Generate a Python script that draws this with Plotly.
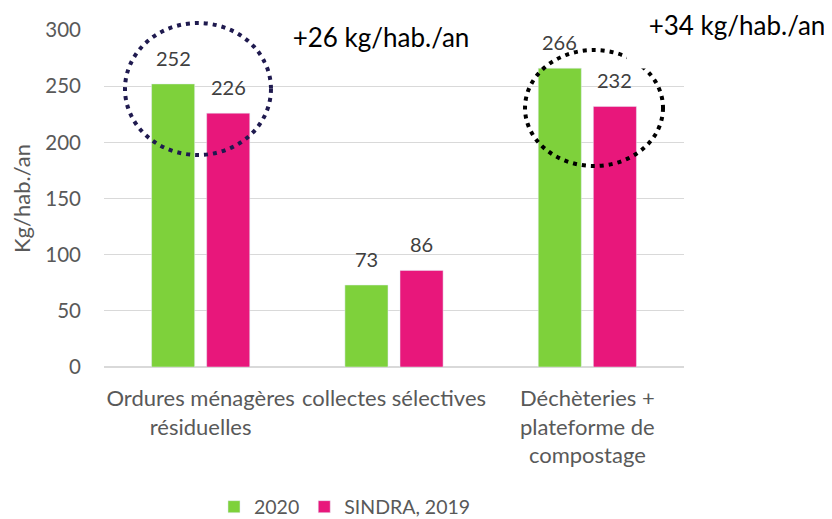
import plotly.graph_objects as go

categories = ["Ordures ménagères<br>résiduelles", "collectes sélectives", "Déchèteries +<br>plateforme de<br>compostage"]
series_names = ["2020", "SINDRA, 2019"]
values_2020 = [252, 73, 266]
values_sindra = [226, 86, 232]
y_ticks = [0, 50, 100, 150, 200, 250, 300]
diff_labels = ["+26 kg/hab./an", "+34 kg/hab./an"]

GREEN = "#7ED13B"
PINK = "#E8177B"
FONT = "Lato"

fig = go.Figure()
fig.add_trace(go.Bar(x=list(range(3)), y=values_2020, name=series_names[0], marker_color=GREEN))
fig.add_trace(go.Bar(x=list(range(3)), y=values_sindra, name=series_names[1], marker_color=PINK))

annotations = []
for vals, shift in ((values_2020, -27.5), (values_sindra, 27.5)):
    for i, v in enumerate(vals):
        annotations.append(dict(x=i, y=v, xref="x", yref="y", text=str(v), showarrow=False,
                                xanchor="center", yanchor="middle",
                                xshift=shift, yshift=26, font=dict(family=FONT, size=20, color="#404040")))

annotations.append(dict(x=0.4776, y=0.979, xref="paper", yref="paper", text=diff_labels[0], showarrow=False,
                        xanchor="center", yanchor="middle",
                        bgcolor="white", width=226, height=50, font=dict(family=FONT, size=26, color="black")))
annotations.append(dict(x=1.0914, y=1.0148, xref="paper", yref="paper", text=diff_labels[1], showarrow=False,
                        xanchor="center", yanchor="middle",
                        bgcolor="white", width=218, height=84, font=dict(family=FONT, size=26, color="black")))

shapes = [
    dict(type="circle", xref="paper", yref="paper", x0=0.0362, x1=0.2879, y0=0.6291, y1=1.0208,
         line=dict(color="#1F1A4F", width=4, dash="4px,5px"), layer="above"),
    dict(type="circle", xref="paper", yref="paper", x0=0.7259, x1=0.9638, y0=0.5964, y1=0.9407,
         line=dict(color="black", width=4, dash="4px,5px"), layer="above"),
]

fig.update_layout(
    width=824, height=511,
    margin=dict(l=96, r=148, t=22, b=152, autoexpand=False),
    paper_bgcolor="white", plot_bgcolor="white",
    barmode="group", bargap=0.43, bargroupgap=0.218,
    font=dict(family=FONT, size=20, color="#595959"),
    showlegend=True,
    legend=dict(orientation="h", x=0.4155, y=-0.4154, xanchor="center", yanchor="middle",
                font=dict(family=FONT, size=19.5, color="#595959"), itemwidth=30),
    annotations=annotations,
    shapes=shapes,
)
fig.update_xaxes(tickmode="array", tickvals=list(range(3)), ticktext=categories,
                 range=[-0.5, 2.5], showgrid=False, showline=False, ticks="",
                 ticklabelstandoff=16,
                 tickfont=dict(family=FONT, size=22, color="#595959"))
fig.update_yaxes(range=[0, 300], tickvals=y_ticks, showgrid=True, gridcolor="#D9D9D9", gridwidth=1.3,
                 zeroline=True, zerolinecolor="#D9D9D9", zerolinewidth=2,
                 ticks="", ticklabelstandoff=22,
                 tickfont=dict(family=FONT, size=20.5, color="#595959"),
                 title=dict(text="Kg/hab./an", font=dict(family=FONT, size=22, color="#595959"), standoff=12))

fig.write_html("out.html")
